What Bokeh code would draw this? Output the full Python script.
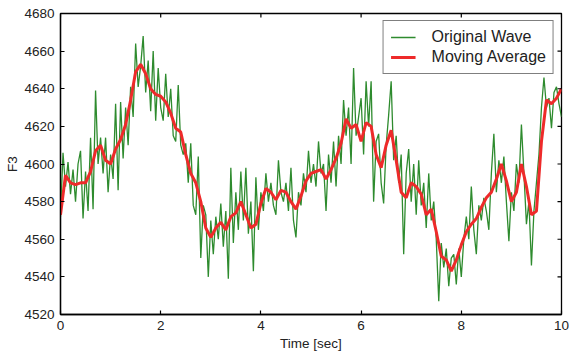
import numpy as np
from bokeh.plotting import figure
from bokeh.models import Legend, LegendItem, FixedTicker, Range1d
from bokeh.embed import file_html
from bokeh.resources import INLINE

# Original wave, sampled every 0.05 s from 0 to 10 s
wave_t = [round(i * 0.05, 2) for i in range(201)]
wave_v = [
    4572, 4606, 4588, 4601, 4584, 4597, 4580, 4600, 4607, 4571,
    4596, 4575, 4614, 4576, 4639, 4600, 4614, 4595, 4614, 4585,
    4605, 4592, 4632, 4586, 4633, 4603, 4630, 4610, 4641, 4625,
    4664, 4641, 4652, 4668, 4638, 4655, 4628, 4660, 4623, 4651,
    4630, 4623, 4648, 4625, 4640, 4615, 4612, 4642, 4610, 4605,
    4611, 4590, 4611, 4578, 4573, 4604, 4550, 4578, 4573, 4540,
    4570, 4552, 4572, 4560, 4579, 4556, 4575, 4539, 4598, 4558,
    4585, 4565, 4596, 4570, 4598, 4563, 4580, 4543, 4593, 4565,
    4585, 4575, 4595, 4580, 4590, 4578, 4573, 4602, 4585, 4580,
    4590, 4575, 4598, 4570, 4561, 4585, 4578, 4595, 4585, 4607,
    4590, 4600, 4588, 4612, 4595, 4600, 4575, 4605, 4590, 4612,
    4588, 4615, 4600, 4634, 4615, 4630, 4600, 4651, 4615, 4625,
    4635, 4605, 4644, 4620, 4644, 4580, 4612, 4616, 4590, 4579,
    4610, 4626, 4644, 4602, 4615, 4590, 4605, 4552, 4595, 4608,
    4580, 4600, 4573, 4602, 4578, 4590, 4566, 4595, 4570, 4580,
    4560, 4527, 4558, 4545, 4555, 4535, 4550, 4552, 4536, 4555,
    4540, 4560, 4572, 4560, 4588, 4565, 4552, 4578, 4570, 4582,
    4575, 4565, 4595, 4616, 4585, 4602, 4590, 4604, 4580, 4559,
    4585, 4575, 4600, 4590, 4621, 4595, 4568, 4580, 4546, 4575,
    4590, 4605, 4630, 4646, 4630, 4635, 4619, 4638, 4641, 4632,
    4625,
]

# Moving average, sampled every 0.1 s
avg_t = [round(i * 0.1, 1) for i in range(101)]
avg_v = [
    4573, 4594, 4590, 4589, 4590, 4590, 4596, 4607, 4610, 4602,
    4600, 4608, 4613, 4621, 4634, 4649, 4653, 4648, 4640, 4637,
    4636, 4633, 4627, 4619, 4617, 4605, 4595, 4590, 4580, 4566,
    4561, 4566, 4569, 4565, 4572, 4574, 4580, 4573, 4566, 4568,
    4579, 4587, 4585, 4581, 4586, 4585, 4580, 4576, 4583, 4591,
    4595, 4596, 4597, 4592, 4597, 4603, 4611, 4624, 4619, 4621,
    4612, 4622, 4620, 4605, 4598, 4610, 4618, 4602, 4585, 4582,
    4590, 4588, 4584, 4573, 4576, 4564, 4551, 4549, 4543, 4549,
    4557, 4564, 4568, 4571, 4577, 4582, 4585, 4592, 4600, 4591,
    4580, 4585, 4600, 4588, 4573, 4575, 4612, 4634, 4632, 4635,
    4640,
]

x_ticks = [0, 2, 4, 6, 8, 10]
y_ticks = [4520, 4540, 4560, 4580, 4600, 4620, 4640, 4660, 4680]

FONT = "Liberation Sans"
X_MAX = x_ticks[-1]
Y_MAX = y_ticks[-1]

p = figure(width=569, height=356, output_backend="svg", toolbar_location=None,
           x_range=Range1d(x_ticks[0], X_MAX), y_range=Range1d(y_ticks[0], Y_MAX),
           min_border_left=60, min_border_right=8, min_border_top=13, min_border_bottom=42)
p.grid.visible = False
p.outline_line_color = "black"
p.outline_line_width = 1.3

green = p.line(wave_t, wave_v, line_color="#2e8b2e", line_width=1.3)
red = p.line(avg_t, avg_v, line_color="#ee2a2a", line_width=3)

# inward ticks on the top and right edges of the frame
p.scatter(x=x_ticks, y=[Y_MAX] * len(x_ticks), marker="dash", angle=np.pi / 2,
          size=8, line_color="black", line_width=1.2)
p.scatter(x=[X_MAX] * len(y_ticks), y=y_ticks, marker="dash",
          size=8, line_color="black", line_width=1.2)

xa = p.xaxis[0]
ya = p.yaxis[0]
xa.ticker = FixedTicker(ticks=x_ticks)
ya.ticker = FixedTicker(ticks=y_ticks)
xa.axis_label = "Time [sec]"
ya.axis_label = "F3"

for ax in [xa, ya]:
    ax.major_tick_in = 4
    ax.major_tick_out = 0
    ax.minor_tick_line_color = None
    ax.axis_line_color = "black"
    ax.axis_line_width = 1.3
    ax.major_tick_line_color = "black"
    ax.major_tick_line_width = 1.2
    ax.major_label_text_font = FONT
    ax.major_label_text_font_size = "13.5px"
    ax.major_label_text_color = "#222222"
    ax.axis_label_text_font = FONT
    ax.axis_label_text_font_size = "13.5px"
    ax.axis_label_text_font_style = "normal"
    ax.axis_label_text_color = "#222222"

xa.major_label_standoff = 6
xa.axis_label_standoff = 3
ya.major_label_standoff = 6
ya.axis_label_standoff = 1

legend = Legend(items=[LegendItem(label="Original Wave", renderers=[green]),
                       LegendItem(label="Moving Average", renderers=[red])],
                location="top_right")
legend.margin = 7
legend.padding = 7
legend.spacing = 2
legend.border_line_color = "black"
legend.border_line_width = 1.2
legend.label_text_font = FONT
legend.label_text_font_size = "16px"
legend.label_text_color = "#222222"
legend.glyph_width = 25
legend.label_standoff = 16
legend.label_height = 18
legend.glyph_height = 18
p.add_layout(legend, "center")

open("out.html", "w").write(file_html(p, INLINE))
